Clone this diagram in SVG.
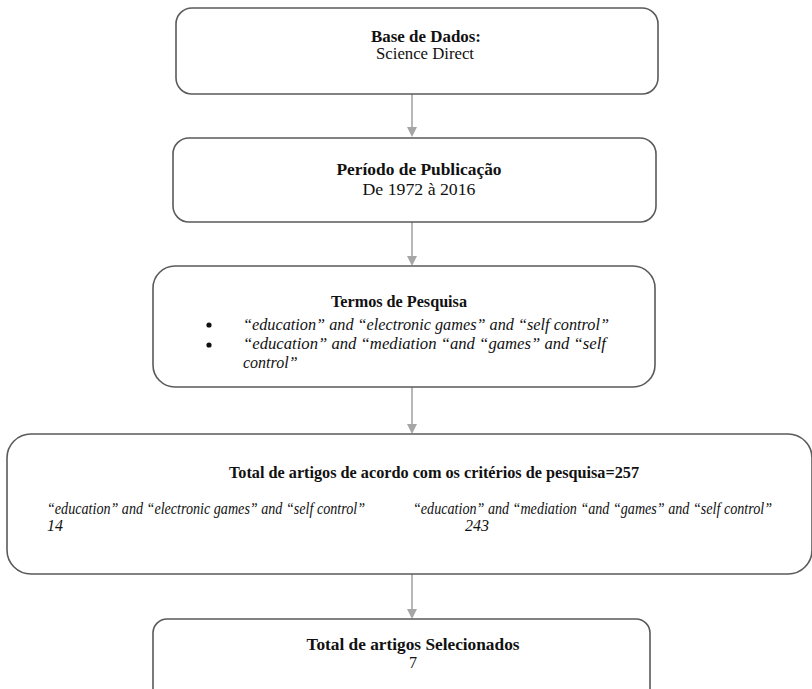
<svg xmlns="http://www.w3.org/2000/svg" width="812" height="689" viewBox="0 0 812 689">
<style>
.box{fill:#fff;stroke:#5a5a5a;stroke-width:1.6}
.t{font-family:'Liberation Serif','Times New Roman','DejaVu Serif',serif;fill:#111;font-size:16px}
.b{font-weight:bold}
.c{text-anchor:middle}
.i{font-style:italic}
.con{stroke:#a6a6a6;stroke-width:1.6;fill:none}
.ah{fill:#a6a6a6}
</style>
<rect width="812" height="689" fill="#fff"/>
<g id="connectors">
<line class="con" x1="412" y1="94" x2="412" y2="128"/>
<polygon class="ah" points="407,127 417,127 412,137"/>
<line class="con" x1="412" y1="222" x2="412" y2="257"/>
<polygon class="ah" points="407,256 417,256 412,266"/>
<line class="con" x1="412" y1="387" x2="412" y2="425"/>
<polygon class="ah" points="407,424 417,424 412,434"/>
<line class="con" x1="412" y1="574" x2="412" y2="610"/>
<polygon class="ah" points="407,609 417,609 412,619"/>
</g>
<g id="n1">
<rect class="box" x="176" y="8" width="482" height="86" rx="16"/>
<text class="t b c" x="426" y="42" font-size="17" textLength="110" lengthAdjust="spacingAndGlyphs">Base de Dados:</text>
<text class="t c" x="425" y="59" font-size="17" textLength="98" lengthAdjust="spacingAndGlyphs">Science Direct</text>
</g>
<g id="n2">
<rect class="box" x="173" y="138" width="483" height="84" rx="16"/>
<text class="t b c" x="419" y="175" font-size="17" textLength="165" lengthAdjust="spacingAndGlyphs">Período de Publicação</text>
<text class="t c" x="419" y="195" font-size="17" textLength="113" lengthAdjust="spacingAndGlyphs">De 1972 à 2016</text>
</g>
<g id="n3">
<rect class="box" x="153" y="266" width="502" height="121" rx="22"/>
<text class="t b c" x="399" y="307" font-size="17" textLength="136" lengthAdjust="spacingAndGlyphs">Termos de Pesquisa</text>
<circle cx="209" cy="325" r="2.6" fill="#111"/>
<circle cx="209" cy="345" r="2.6" fill="#111"/>
<text class="t i" x="243" y="330" font-size="16.5" textLength="366" lengthAdjust="spacingAndGlyphs">“education” and “electronic games” and “self control”</text>
<text class="t i" x="243" y="349" font-size="16.5" textLength="363" lengthAdjust="spacingAndGlyphs">“education” and “mediation “and “games” and “self</text>
<text class="t i" x="243" y="368" font-size="16.5">control”</text>
</g>
<g id="n4">
<rect class="box" x="7" y="434" width="805" height="140" rx="24"/>
<text class="t b c" x="434" y="478" font-size="17" textLength="410" lengthAdjust="spacingAndGlyphs">Total de artigos de acordo com os critérios de pesquisa=257</text>
<text class="t i" x="47" y="514" font-size="13" textLength="318" lengthAdjust="spacingAndGlyphs">“education” and “electronic games” and “self control”</text>
<text class="t i" x="47" y="531" font-size="13">14</text>
<text class="t i" x="413" y="514" font-size="13" textLength="359" lengthAdjust="spacingAndGlyphs">“education” and “mediation “and “games” and “self control”</text>
<text class="t i" x="465" y="531" font-size="13">243</text>
</g>
<g id="n5">
<rect class="box" x="153" y="619" width="497" height="90" rx="14"/>
<text class="t b c" x="413" y="650" font-size="17" textLength="213" lengthAdjust="spacingAndGlyphs">Total de artigos Selecionados</text>
<text class="t c" x="413" y="668" font-size="17" fill="#555">7</text>
</g>
</svg>
